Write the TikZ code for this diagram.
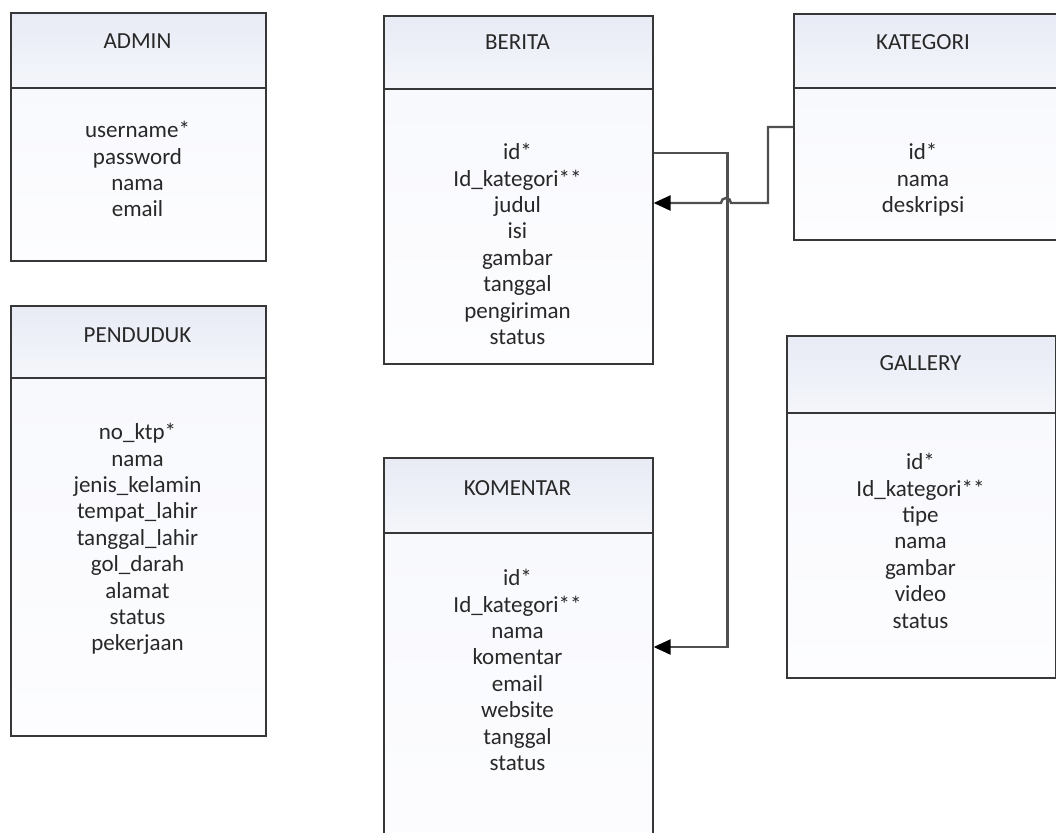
\documentclass[tikz,border=0pt]{standalone}
\usepackage{fontspec}
\setmainfont{Carlito}
\usetikzlibrary{arrows.meta}
\definecolor{hdrtop}{RGB}{232,235,245}
\definecolor{hdrbot}{RGB}{244,246,251}
\definecolor{bodytop}{RGB}{248,249,253}
\definecolor{bodybot}{RGB}{253,253,255}
\definecolor{edge}{RGB}{55,55,55}
\definecolor{conncol}{RGB}{80,80,80}
\definecolor{txt}{RGB}{40,40,40}
\tikzset{
  hdr/.style={draw=edge, line width=1.6pt, top color=hdrtop, bottom color=hdrbot, anchor=north west, inner sep=0pt},
  bodybox/.style={draw=edge, line width=1.6pt, top color=bodytop, bottom color=bodybot, anchor=north west, inner sep=0pt},
  ttl/.style={font=\fontsize{23}{26.4}\selectfont, text=txt, inner sep=0pt},
  rows/.style={font=\fontsize{23}{26.4}\selectfont, text=txt, align=center, anchor=north, inner sep=0pt},
  conn/.style={draw=conncol, line width=2.4pt},
  tip/.style={-{Triangle[length=17pt,width=15pt,fill=black,color=black]}}
}
\begin{document}
\begin{tikzpicture}[x=1pt,y=-1pt]
\useasboundingbox (0,0) rectangle (1056,832);
\fill[white] (0,0) rectangle (1056,832);
\clip (0,0) rectangle (1056,832);
% ADMIN
\node[hdr, minimum width=255pt, minimum height=75pt] (adminH) at (10,12) {};
\node[bodybox, minimum width=255pt, minimum height=173pt] (adminB) at (10,87) {};
\node[ttl] (adminT) at (137.5,41) {ADMIN};
\node[rows] (adminR) at (137.5,119) {\strut username*\\password\\nama\\email};
% PENDUDUK
\node[hdr, minimum width=255pt, minimum height=72pt] (pendH) at (10,305) {};
\node[bodybox, minimum width=255pt, minimum height=358pt] (pendB) at (10,377) {};
\node[ttl] (pendT) at (137.5,335) {PENDUDUK};
\node[rows] (pendR) at (137.5,421) {\strut no\_ktp*\\nama\\jenis\_kelamin\\tempat\_lahir\\tanggal\_lahir\\gol\_darah\\alamat\\status\\pekerjaan};
% BERITA
\node[hdr, minimum width=269pt, minimum height=73pt] (beritaH) at (383,15) {};
\node[bodybox, minimum width=269pt, minimum height=275pt] (beritaB) at (383,88) {};
\node[ttl] (beritaT) at (517.5,42) {BERITA};
\node[rows] (beritaR) at (517.5,141) {\strut id*\\Id\_kategori**\\judul\\isi\\gambar\\tanggal\\pengiriman\\status};
% KATEGORI
\node[hdr, minimum width=267pt, minimum height=74pt] (katH) at (793,13) {};
\node[bodybox, minimum width=267pt, minimum height=152pt] (katB) at (793,87) {};
\node[ttl] (katT) at (923,42) {KATEGORI};
\node[rows] (katR) at (923,141) {\strut id*\\nama\\deskripsi};
% GALLERY
\node[hdr, minimum width=269pt, minimum height=77pt] (galH) at (786,335) {};
\node[bodybox, minimum width=269pt, minimum height=265pt] (galB) at (786,412) {};
\node[ttl] (galT) at (920.5,363) {GALLERY};
\node[rows] (galR) at (920.5,451) {\strut id*\\Id\_kategori**\\tipe\\nama\\gambar\\video\\status};
% KOMENTAR
\node[hdr, minimum width=269pt, minimum height=75pt] (komH) at (383,457) {};
\node[bodybox, minimum width=269pt, minimum height=340pt] (komB) at (383,532) {};
\node[ttl] (komT) at (517.5,488) {KOMENTAR};
\node[rows] (komR) at (517.5,567) {\strut id*\\Id\_kategori**\\nama\\komentar\\email\\website\\tanggal\\status};
% connectors
\draw[conn, tip] ([yshift=-65pt]beritaB.north east) -- ++(74,0) |- ([yshift=-115pt]komB.north east);
\draw[conn, tip] ([yshift=-40pt]katB.north west) -- ++(-25,0) -- ++(0,76) -- ++(-37,0) arc (0:-180:5) -- ([yshift=-115pt]beritaB.north east);
\end{tikzpicture}
\end{document}
